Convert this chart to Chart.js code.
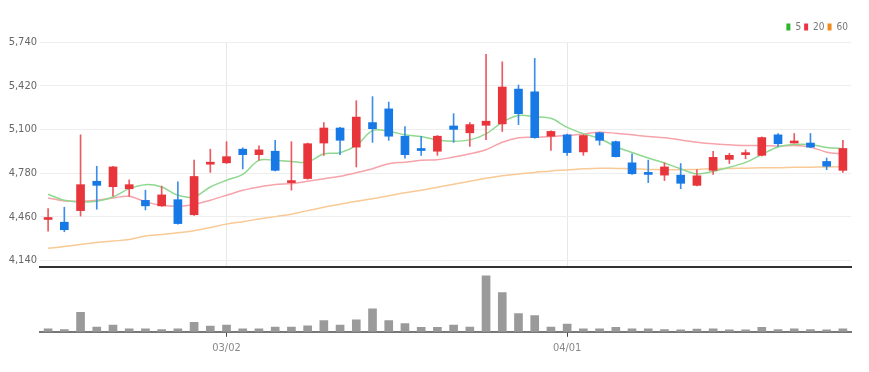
<!DOCTYPE html>
<html>
<head>
<meta charset="utf-8">
<script src="https://cdn.jsdelivr.net/npm/chart.js@4"></script>
<style>
  html, body { margin: 0; padding: 0; background: #fff; }
  #wrap { position: relative; width: 869px; height: 372px; }
  #priceChart { position: absolute; left: 0; top: 0; }
  #volumeChart { position: absolute; left: 0; top: 268px; }
</style>
</head>
<body>
<div id="wrap">
  <canvas id="priceChart" width="869" height="278"></canvas>
  <canvas id="volumeChart" width="869" height="104"></canvas>
</div>
<script>
// trading days (2022)
var dates = ['02/14','02/15','02/16','02/17','02/18','02/21','02/22','02/23','02/24','02/25',
  '02/28','03/02','03/03','03/04','03/07','03/08','03/10','03/11','03/14','03/15',
  '03/16','03/17','03/18','03/21','03/22','03/23','03/24','03/25','03/28','03/29',
  '03/30','03/31','04/01','04/04','04/05','04/06','04/07','04/08','04/11','04/12',
  '04/13','04/14','04/15','04/18','04/19','04/20','04/21','04/22','04/25','04/26'];

var opens  = [4440,4420,4505,4720,4680,4665,4580,4540,4585,4475,
  4845,4855,4955,4915,4940,4710,4740,5000,5110,4970,
  5150,5250,5050,4960,4940,5125,5075,5130,5140,5395,
  5375,5050,5060,4935,5075,5010,4855,4785,4765,4765,
  4690,4800,4880,4915,4910,5060,5000,5000,4865,4800];
var highs  = [4520,4530,5060,4830,4830,4730,4655,4685,4715,4875,
  4955,5010,4965,4980,5020,5010,5000,5150,5115,5310,
  5340,5300,5120,5050,5055,5215,5150,5650,5595,5425,
  5620,5090,5065,5060,5080,5015,4920,4875,4855,4850,
  4805,4940,4925,4950,5045,5070,5070,5070,4890,5020];
var lows   = [4355,4350,4465,4515,4610,4610,4510,4535,4405,4470,
  4785,4850,4810,4875,4795,4655,4735,4910,4915,4825,
  5005,5020,4890,4910,4910,5005,4975,5025,5085,5135,
  5035,4945,4910,4910,4985,4898,4770,4710,4725,4665,
  4685,4770,4850,4885,4905,4975,5000,4965,4805,4785];
var closes = [4450,4365,4695,4690,4825,4695,4540,4620,4410,4755,
  4855,4900,4915,4950,4800,4725,4995,5110,5020,5190,
  5105,5050,4915,4945,5050,5100,5135,5160,5410,5215,
  5040,5085,4930,5055,5020,4900,4775,4770,4825,4705,
  4760,4895,4910,4925,5040,4995,5015,4970,4830,4960];

var ma5  = [4625,4581,4569,4574,4605,4666,4695,4678,4617,4605,
  4678,4727,4771,4873,4873,4865,4860,4921,4929,4982,
  5091,5086,5060,5048,5023,5013,5023,5067,5152,5201,
  5193,5181,5115,5069,5033,4975,4931,4891,4854,4811,
  4774,4792,4822,4858,4916,4971,4989,4989,4967,4960];
var ma20 = [4598,4576,4574,4581,4598,4610,4569,4545,4537,4550,
  4581,4617,4654,4678,4696,4703,4720,4739,4756,4783,
  4812,4849,4860,4873,4878,4897,4921,4951,5006,5038,
  5042,5048,5055,5067,5079,5072,5060,5048,5038,5023,
  5006,4994,4987,4982,4982,4977,4982,4970,4933,4921];
var ma60 = [4229,4242,4257,4271,4282,4293,4319,4330,4343,4357,
  4381,4406,4424,4443,4461,4479,4505,4530,4552,4574,
  4592,4614,4636,4654,4676,4698,4720,4742,4760,4774,
  4785,4796,4803,4811,4816,4814,4811,4807,4805,4805,
  4807,4811,4814,4816,4819,4819,4822,4823,4825,4827];

var volumes = [150000,115000,965000,235000,335000,150000,150000,115000,150000,465000,
  285000,335000,150000,150000,235000,235000,300000,550000,335000,585000,
  1135000,550000,400000,215000,215000,335000,235000,2765000,1935000,900000,
  800000,235000,385000,150000,150000,215000,150000,150000,115000,100000,
  135000,150000,100000,100000,215000,115000,150000,115000,100000,150000];

var priceTicks = [4140, 4460, 4780, 5100, 5420, 5740];
var maNames = ['5', '20', '60'];

var UP = '#e8343b', DOWN = '#1679e6';
var FONT = "'Liberation Sans Narrow', 'DejaVu Sans Condensed', 'Roboto Condensed', Roboto, sans-serif";

function isMonthStart(i) {
  return i > 0 && dates[i].slice(0, 2) !== dates[i - 1].slice(0, 2);
}

var candleColors = opens.map(function (o, i) { return closes[i] >= o ? UP : DOWN; });
var wickColors = opens.map(function (o, i) { return closes[i] >= o ? '#ea5a60' : '#3d8ee8'; });

new Chart(document.getElementById('priceChart'), {
  type: 'bar',
  data: {
    labels: dates,
    datasets: [
      {
        label: 'body',
        data: opens.map(function (o, i) { return [o, closes[i]]; }),
        backgroundColor: candleColors,
        barThickness: 8,
        minBarLength: 2,
        grouped: false,
        order: 0
      },
      {
        label: 'wick',
        data: lows.map(function (l, i) { return [l, highs[i]]; }),
        backgroundColor: wickColors,
        barThickness: 1,
        grouped: false,
        order: 1
      },
      { type: 'line', label: '5', data: ma5, borderColor: '#8fd88f', backgroundColor: '#2db52d',
        borderWidth: 1.5, pointRadius: 0, tension: 0.35, order: 2 },
      { type: 'line', label: '20', data: ma20, borderColor: '#f6a3ab', backgroundColor: '#ee3344',
        borderWidth: 1.5, pointRadius: 0, tension: 0.35, order: 3 },
      { type: 'line', label: '60', data: ma60, borderColor: '#f9c996', backgroundColor: '#f08a1c',
        borderWidth: 1.5, pointRadius: 0, tension: 0.35, order: 4 }
    ]
  },
  options: {
    responsive: false,
    animation: false,
    layout: { padding: { left: 0, right: 18, top: 19, bottom: 11 } },
    plugins: {
      tooltip: { enabled: false },
      legend: {
        position: 'top',
        align: 'end',
        labels: {
          boxWidth: 4,
          boxHeight: 7,
          padding: 3,
          color: '#777',
          font: { size: 10, family: FONT },
          generateLabels: function (chart) {
            return maNames.map(function (n, i) {
              var ds = chart.data.datasets[i + 2];
              return { text: n, fillStyle: ds.backgroundColor, strokeStyle: ds.backgroundColor,
                lineWidth: 0, datasetIndex: i + 2, fontColor: '#777' };
            });
          }
        }
      }
    },
    scales: {
      x: {
        offset: true,
        ticks: { display: false, autoSkip: false },
        grid: {
          offset: false,
          drawTicks: false,
          color: function (c) { return isMonthStart(c.index) ? '#e8e8e8' : 'rgba(0,0,0,0)'; }
        },
        border: { color: '#333', width: 2 }
      },
      y: {
        min: 4092,
        max: 5740,
        afterBuildTicks: function (s) { s.ticks = priceTicks.map(function (v) { return { value: v }; }); },
        afterFit: function (s) { s.width = 40; },
        grid: { color: '#eeeeee', drawTicks: false },
        border: { display: false },
        ticks: {
          padding: 3,
          color: '#666',
          font: { size: 11, family: FONT },
          callback: function (v) { return v.toLocaleString('en-US'); }
        }
      }
    }
  }
});

new Chart(document.getElementById('volumeChart'), {
  type: 'bar',
  data: {
    labels: dates,
    datasets: [{ label: 'volume', data: volumes, backgroundColor: '#9a9a9a', barThickness: 8 }]
  },
  options: {
    responsive: false,
    animation: false,
    layout: { padding: { left: 40, right: 18, top: 5, bottom: 12 } },
    plugins: { legend: { display: false }, tooltip: { enabled: false } },
    scales: {
      x: {
        grid: {
          offset: false,
          drawOnChartArea: false,
          tickLength: 5,
          color: function (c) { return isMonthStart(c.index) ? '#444' : 'rgba(0,0,0,0)'; }
        },
        border: { color: '#777', width: 2 },
        ticks: {
          autoSkip: false,
          maxRotation: 0,
          padding: 5,
          color: '#888',
          font: { size: 11, family: FONT },
          callback: function (v, i) { return isMonthStart(i) ? dates[i] : ''; }
        }
      },
      y: { display: false, min: 0, max: 2900000 }
    }
  }
});
</script>
</body>
</html>
